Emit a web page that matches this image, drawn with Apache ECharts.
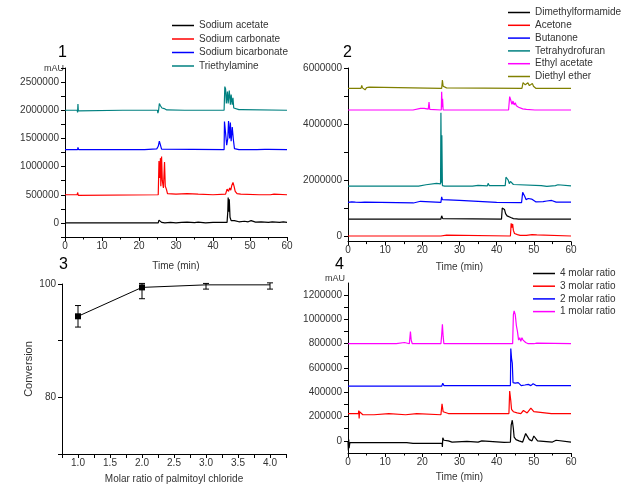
<!DOCTYPE html>
<html>
<head>
<meta charset="utf-8">
<script src="https://cdn.jsdelivr.net/npm/echarts@6/dist/echarts.min.js"></script>
<style>html,body{margin:0;padding:0;background:#fff}#c{width:635px;height:487px}</style>
</head>
<body>
<div id="c"></div>
<script>
// ---------- Panel 1 ----------
const p1Names = ['Sodium acetate', 'Sodium carbonate', 'Sodium bicarbonate', 'Triethylamine'];
const p1Colors = ['#000000', '#ff0000', '#0000ff', '#008080'];
const sodiumAcetate = [[0,0],[25.2,0],[25.4,50000],[25.8,40000],[26.1,10000],[27,0],[28.5,10000],[30,0],[31.5,10000],[33,15000],[35,5000],[36,15000],[38,0],[40,10000],[43.8,10000],[44,200000],[44.1,450000],[44.3,200000],[44.4,420000],[44.6,100000],[44.9,40000],[45.4,60000],[45.8,40000],[46.3,50000],[47,20000],[48.5,30000],[49.5,20000],[50.3,40000],[50.8,30000],[51.5,15000],[53,20000],[55,10000],[56,20000],[58,10000],[59,20000],[60,10000]];
const sodiumCarbonate = [[0,500000],[3.3,500000],[3.4,540000],[3.6,490000],[3.8,520000],[4,500000],[25.2,500000],[25.4,1100000],[25.6,800000],[25.8,1150000],[25.9,650000],[26.1,1180000],[26.3,750000],[26.6,620000],[26.9,1080000],[27.1,650000],[27.4,600000],[27.7,520000],[30,510000],[33,520000],[36,510000],[40,500000],[43.4,510000],[43.8,600000],[44.2,560000],[44.5,620000],[44.8,580000],[45.1,670000],[45.4,720000],[45.7,650000],[46,560000],[46.5,520000],[47.5,510000],[48,500000],[52.5,500000],[53,520000],[53.5,500000],[55.5,500000],[56,530000],[56.5,510000],[57,500000],[60,500000]];
const sodiumBicarbonate = [[0,1300000],[3.4,1300000],[3.5,1340000],[3.7,1300000],[21.5,1300000],[21.7,1315000],[24.8,1315000],[25.2,1360000],[25.5,1450000],[25.8,1380000],[26.1,1310000],[26.5,1300000],[43,1300000],[43.1,1800000],[43.5,1800000],[43.7,1380000],[44,1500000],[44.2,1810000],[44.5,1500000],[44.7,1780000],[44.9,1450000],[45.2,1700000],[45.5,1480000],[45.8,1320000],[46,1300000],[47,1300000],[47.3,1320000],[47.6,1300000],[51.8,1300000],[52,1315000],[52.2,1300000],[54,1305000],[54.5,1330000],[55,1305000],[55.5,1300000],[60,1300000]];
const triethylamine = [[0,2000000],[3.3,2000000],[3.4,1960000],[3.5,2110000],[3.6,1990000],[3.8,2010000],[4,2000000],[15.6,2000000],[15.7,1985000],[15.8,2000000],[23.2,2000000],[23.5,2020000],[23.8,2000000],[25,2000000],[25.1,1950000],[25.3,2000000],[25.5,2120000],[25.8,2080000],[26.2,2040000],[26.8,2030000],[27.5,2005000],[28,2000000],[32.3,2000000],[32.5,2015000],[32.8,2000000],[43,2000000],[43.2,2420000],[43.4,2380000],[43.6,2120000],[43.9,2330000],[44.1,2120000],[44.4,2350000],[44.7,2100000],[44.9,2280000],[45.2,2100000],[45.4,2220000],[45.6,2040000],[46,2010000],[47,2010000],[47.3,2030000],[47.8,2010000],[48.3,2000000],[60,2000000]];
const p1Data = [sodiumAcetate, sodiumCarbonate, sodiumBicarbonate, triethylamine];
const p1YLabels = [0, 500000, 1000000, 1500000, 2000000, 2500000];

// ---------- Panel 2 ----------
const p2Names = ['Dimethylformamide', 'Acetone', 'Butanone', 'Tetrahydrofuran', 'Ethyl acetate', 'Diethyl ether'];
const p2Colors = ['#000000', '#ff0000', '#0000ff', '#008080', '#ff00ff', '#808000'];
const dimethylformamide = [[0,600000],[3.4,600000],[3.5,640000],[3.7,600000],[21.3,600000],[21.5,660000],[21.7,600000],[25,600000],[25.2,720000],[25.5,620000],[25.8,600000],[41.3,600000],[41.5,1000000],[41.8,1050000],[42.1,950000],[42.4,800000],[42.8,720000],[43.2,680000],[43.8,660000],[44.5,620000],[45.3,610000],[45.6,640000],[45.9,600000],[60,600000]];
const acetone = [[0,0],[25,0],[25.3,-20000],[25.5,40000],[26.5,30000],[26.8,0],[43.7,0],[43.9,450000],[44.1,300000],[44.3,430000],[44.5,200000],[44.8,90000],[45.2,120000],[45.6,50000],[46,80000],[46.3,20000],[48,20000],[48.3,50000],[49.5,50000],[49.8,20000],[50,40000],[50.8,40000],[51,0],[60,0]];
const butanone = [[0,1200000],[0.5,1170000],[1,1220000],[1.5,1170000],[2,1210000],[2.5,1180000],[3.5,1200000],[4,1180000],[4.5,1210000],[5,1180000],[17.6,1180000],[17.8,1240000],[19.5,1240000],[19.7,1200000],[25,1200000],[25.2,1400000],[25.4,1300000],[25.7,1290000],[30,1270000],[30.2,1200000],[40,1200000],[40.2,1190000],[46.7,1190000],[47,1560000],[47.3,1550000],[47.6,1400000],[47.9,1300000],[48.5,1340000],[48.9,1280000],[49.4,1320000],[49.8,1260000],[50.5,1220000],[52.5,1230000],[52.8,1270000],[53.5,1250000],[54,1220000],[54.8,1270000],[55.3,1230000],[56,1210000],[60,1210000]];
const tetrahydrofuran = [[0,1780000],[3.4,1780000],[3.5,1810000],[3.7,1780000],[19,1780000],[19.2,1820000],[21,1830000],[21.3,1880000],[23.8,1880000],[24.3,1860000],[24.9,1860000],[25,4400000],[25.15,1900000],[25.25,3600000],[25.4,1800000],[26,1780000],[33.5,1780000],[33.7,1820000],[35,1810000],[35.2,1790000],[37.5,1790000],[37.7,1880000],[38,1800000],[42.3,1800000],[42.5,2100000],[42.8,2050000],[43.1,2000000],[43.4,1870000],[43.7,1950000],[44,1880000],[44.5,1840000],[45,1800000],[52,1800000],[52.2,1770000],[53.5,1770000],[53.7,1800000],[55.8,1800000],[56,1840000],[56.5,1830000],[56.8,1790000],[60,1790000]];
const ethylAcetate = [[0,4500000],[3.6,4500000],[3.7,4540000],[3.8,4500000],[17.5,4500000],[17.7,4540000],[19.5,4560000],[20.5,4560000],[20.8,4530000],[21.6,4530000],[21.8,4780000],[22,4520000],[22.2,4500000],[25.1,4500000],[25.2,5150000],[25.35,4600000],[25.45,4900000],[25.6,4500000],[43.2,4500000],[43.5,4980000],[43.8,4850000],[44.1,4700000],[44.4,4820000],[44.7,4680000],[45,4760000],[45.3,4650000],[45.6,4720000],[45.9,4600000],[46.2,4560000],[47,4540000],[48,4520000],[48.5,4500000],[50.3,4500000],[50.5,4520000],[50.8,4500000],[60,4500000]];
const diethylEther = [[0,5270000],[3.5,5270000],[3.7,5380000],[3.9,5290000],[4.3,5330000],[4.6,5220000],[5,5300000],[5.3,5350000],[5.7,5320000],[6,5270000],[25.2,5270000],[25.4,5570000],[25.6,5350000],[26,5320000],[26.5,5290000],[27,5270000],[46.8,5270000],[47.1,5480000],[47.4,5460000],[47.7,5400000],[48,5400000],[48.4,5470000],[48.8,5370000],[49.2,5400000],[49.6,5450000],[49.9,5350000],[50.3,5290000],[50.6,5270000],[60,5270000]];
const p2Data = [dimethylformamide, acetone, butanone, tetrahydrofuran, ethylAcetate, diethylEther];
const p2YLabels = [0, 2000000, 4000000, 6000000];
const p2YTicks = [0, 1000000, 2000000, 3000000, 4000000, 5000000, 6000000];

// ---------- Panel 3 ----------
const ratios = [1, 2, 3, 4];
const conversion = [94.3, 99.4, 99.85, 99.85];
const convLow = [92.4, 97.4, 99.1, 99.1];
const convHigh = [96.2, 100.1, 100.1, 100.2];
const convMarkerShown = [true, true, false, false];

// ---------- Panel 4 ----------
const p4Names = ['4 molar ratio', '3 molar ratio', '2 molar ratio', '1 molar ratio'];
const p4Colors = ['#000000', '#ff0000', '#0000ff', '#ff00ff'];
const ratio4 = [[0,-10000],[0.1,-80000],[0.2,10000],[0.3,-60000],[0.5,-15000],[5.3,-15000],[5.5,-25000],[5.8,-15000],[11.5,-15000],[11.7,-25000],[12,-15000],[15.8,-15000],[16,-5000],[16.3,-20000],[17.5,-20000],[22,-20000],[25.3,-20000],[25.4,-50000],[25.5,25000],[25.8,5000],[27,0],[28,-10000],[32,-5000],[35,-10000],[36,0],[36.3,-10000],[42,-12000],[43.7,-10000],[43.9,130000],[44.2,170000],[44.5,100000],[44.7,30000],[45.2,10000],[46,0],[47,-10000],[47.8,60000],[48.3,50000],[48.8,10000],[49.5,0],[50,40000],[50.5,30000],[51,0],[55,-10000],[56,5000],[56.5,-10000],[60,-10000]];
const ratio3 = [[0,225000],[2.8,225000],[2.9,250000],[3,185000],[3.1,240000],[3.3,225000],[4,215000],[4.3,225000],[5,215000],[5.3,225000],[6,215000],[6.3,225000],[7,215000],[7.3,225000],[11,225000],[11.2,215000],[15.5,215000],[15.7,225000],[18.5,225000],[18.7,215000],[25,215000],[25.3,305000],[25.6,240000],[26,235000],[27,225000],[35.5,225000],[35.7,235000],[36,225000],[43.3,225000],[43.5,410000],[43.8,330000],[44,260000],[44.5,240000],[45,245000],[45.5,230000],[46.5,225000],[47.2,250000],[47.6,240000],[48.2,230000],[49.2,270000],[49.6,255000],[50,240000],[50.5,225000],[54.7,225000],[55,235000],[55.5,225000],[60,225000]];
const ratio2 = [[0,450000],[25.2,450000],[25.3,440000],[25.5,475000],[25.8,455000],[43.7,455000],[43.8,760000],[44,680000],[44.2,640000],[44.4,480000],[44.7,490000],[45,475000],[45.4,490000],[45.8,480000],[46.2,490000],[46.6,455000],[47.6,460000],[48,475000],[48.5,465000],[49.2,455000],[49.8,470000],[50.2,475000],[50.6,455000],[60,455000]];
const ratio1 = [[0,800000],[4,800000],[4.1,790000],[4.3,800000],[13,800000],[13.2,810000],[15.2,810000],[15.5,800000],[16.5,800000],[16.8,900000],[17,830000],[17.3,800000],[25,800000],[25.2,870000],[25.4,960000],[25.6,860000],[25.8,800000],[44.3,800000],[44.5,1040000],[44.7,1070000],[45,1040000],[45.3,950000],[45.6,900000],[45.9,830000],[46.2,850000],[46.5,820000],[46.8,850000],[47.1,830000],[47.4,845000],[47.8,810000],[48.5,800000],[50,800000],[50.3,815000],[50.8,805000],[51.2,800000],[60,800000]];
const p4Data = [ratio4, ratio3, ratio2, ratio1];
const p4YLabels = [0, 200000, 400000, 600000, 800000, 1000000, 1200000];
const p4YTicks = [0, 100000, 200000, 300000, 400000, 500000, 600000, 700000, 800000, 900000, 1000000, 1100000, 1200000];

const timeLabels = [0, 10, 20, 30, 40, 50, 60];

// ---------- build ----------
const FONT = 'Liberation Sans, Arial, sans-serif';
const TXT = '#333';
function baseAxis(extra) {
  return Object.assign({
    axisLine: { show: true, onZero: false, lineStyle: { color: '#000', width: 1 } },
    axisTick: { show: true, inside: false, length: 4, lineStyle: { color: '#000', width: 1 } },
    splitLine: { show: false },
    axisLabel: { fontSize: 10, color: TXT, fontFamily: FONT },
    nameTextStyle: { fontSize: 10, color: TXT, fontFamily: FONT }
  }, extra);
}
function timeAxis(grid, gap) {
  const a = baseAxis({
    type: 'value', gridIndex: grid, min: 0, max: 60, interval: 10,
    name: 'Time (min)', nameLocation: 'middle', nameGap: gap,
    minorTick: { show: true, splitNumber: 2, length: 2.5, lineStyle: { color: '#000' } }
  });
  a.axisLabel = Object.assign({}, a.axisLabel, { margin: 4, customValues: timeLabels });
  return a;
}
function lineSeries(name, color, data, xi, yi) {
  return {
    type: 'line', name: name, xAxisIndex: xi, yAxisIndex: yi, data: data,
    showSymbol: false, symbol: 'none', color: color,
    lineStyle: { color: color, width: 1.2 }, animation: false, silent: true
  };
}

const series = [];
p1Names.forEach((n, i) => series.push(lineSeries(n, p1Colors[i], p1Data[i], 0, 0)));
p2Names.forEach((n, i) => series.push(lineSeries(n, p2Colors[i], p2Data[i], 1, 1)));
p4Names.forEach((n, i) => series.push(lineSeries(n, p4Colors[i], p4Data[i], 3, 3)));

series.push({
  type: 'line', xAxisIndex: 2, yAxisIndex: 2, animation: false, silent: true,
  data: ratios.map((r, i) => ({ value: [r, conversion[i]], symbol: convMarkerShown[i] ? 'rect' : 'none' })),
  symbol: 'rect', symbolSize: 6, showAllSymbol: true,
  lineStyle: { color: '#000', width: 1 }, itemStyle: { color: '#000' }
});
series.push({
  type: 'custom', xAxisIndex: 2, yAxisIndex: 2, animation: false, silent: true,
  data: ratios.map((r, i) => [r, convLow[i], convHigh[i]]),
  encode: { x: 0, y: [1, 2] },
  renderItem: function (params, api) {
    const x = api.value(0);
    const lo = api.coord([x, api.value(1)]);
    const hi = api.coord([x, api.value(2)]);
    const w = 3;
    const st = { stroke: '#000', lineWidth: 1 };
    return {
      type: 'group', children: [
        { type: 'line', shape: { x1: lo[0], y1: lo[1], x2: hi[0], y2: hi[1] }, style: st },
        { type: 'line', shape: { x1: lo[0] - w, y1: lo[1], x2: lo[0] + w, y2: lo[1] }, style: st },
        { type: 'line', shape: { x1: hi[0] - w, y1: hi[1], x2: hi[0] + w, y2: hi[1] }, style: st }
      ]
    };
  }
});

function legend(names, left, top, gap) {
  return {
    data: names, orient: 'vertical', left: left, top: top, itemWidth: 22, itemHeight: 1.5,
    icon: 'rect', itemGap: gap, selectedMode: false, padding: 0,
    textStyle: { fontSize: 10, color: TXT, fontFamily: FONT, lineHeight: 10 }
  };
}

const option = {
  backgroundColor: '#fff',
  animation: false,
  grid: [
    { left: 65, top: 68, width: 222, height: 169 },
    { left: 348, top: 68, width: 223, height: 173.6 },
    { left: 62, top: 284, width: 224, height: 170 },
    { left: 348, top: 283, width: 223, height: 170 }
  ],
  xAxis: [
    timeAxis(0, 24),
    timeAxis(1, 21),
    (function () {
      const a = baseAxis({
        type: 'value', gridIndex: 2, min: 0.75, max: 4.25, interval: 0.25,
        name: 'Molar ratio of palmitoyl chloride', nameLocation: 'middle', nameGap: 20
      });
      a.axisLabel = Object.assign({}, a.axisLabel, {
        margin: 4,
        formatter: v => (Math.abs(v * 2 - Math.round(v * 2)) < 1e-6 ? v.toFixed(1) : '')
      });
      return a;
    })(),
    timeAxis(3, 19)
  ],
  yAxis: [
    (function () {
      const a = baseAxis({ type: 'value', gridIndex: 0, min: -250000, max: 2750000, interval: 250000 });
      a.axisLabel = Object.assign({}, a.axisLabel, { margin: 6, formatter: v => (p1YLabels.indexOf(v) >= 0 ? String(v) : '') });
      return a;
    })(),
    (function () {
      const a = baseAxis({ type: 'value', gridIndex: 1, min: -200000, max: 6000000 });
      a.axisLabel = Object.assign({}, a.axisLabel, { margin: 6, customValues: p2YLabels, formatter: v => String(v) });
      a.axisTick = Object.assign({}, a.axisTick, { customValues: p2YTicks });
      return a;
    })(),
    (function () {
      const a = baseAxis({
        type: 'value', gridIndex: 2, min: 70, max: 100, interval: 10,
        name: 'Conversion', nameLocation: 'middle', nameGap: 28
      });
      a.nameTextStyle = Object.assign({}, a.nameTextStyle, { fontSize: 11 });
      a.axisLabel = Object.assign({}, a.axisLabel, { margin: 6, formatter: v => (v === 80 || v === 100 ? String(v) : '') });
      return a;
    })(),
    (function () {
      const a = baseAxis({ type: 'value', gridIndex: 3, min: -100000, max: 1300000 });
      a.axisLabel = Object.assign({}, a.axisLabel, { margin: 6, customValues: p4YLabels, formatter: v => String(v) });
      a.axisTick = Object.assign({}, a.axisTick, { customValues: p4YTicks });
      return a;
    })()
  ],
  legend: [
    legend(p1Names, 172, 20.5, 3.5),
    legend(p2Names, 508, 7.5, 2.8),
    legend(p4Names, 533, 268.5, 2.7)
  ],
  graphic: [
    { type: 'text', x: 58, y: 52.5, style: { text: '1', fontSize: 16, fill: '#000', fontFamily: FONT, verticalAlign: 'middle' } },
    { type: 'text', x: 343, y: 53, style: { text: '2', fontSize: 16, fill: '#000', fontFamily: FONT, verticalAlign: 'middle' } },
    { type: 'text', x: 59, y: 264.5, style: { text: '3', fontSize: 16, fill: '#000', fontFamily: FONT, verticalAlign: 'middle' } },
    { type: 'text', x: 335, y: 265, style: { text: '4', fontSize: 16, fill: '#000', fontFamily: FONT, verticalAlign: 'middle' } },
    { type: 'text', x: 44, y: 68.5, style: { text: 'mAU', fontSize: 9, fill: TXT, fontFamily: FONT, verticalAlign: 'middle' } },
    { type: 'text', x: 325, y: 278.5, style: { text: 'mAU', fontSize: 9, fill: TXT, fontFamily: FONT, verticalAlign: 'middle' } }
  ],
  series: series
};

const chart = echarts.init(document.getElementById('c'), null, { renderer: 'canvas' });
chart.setOption(option);
</script>
</body>
</html>
